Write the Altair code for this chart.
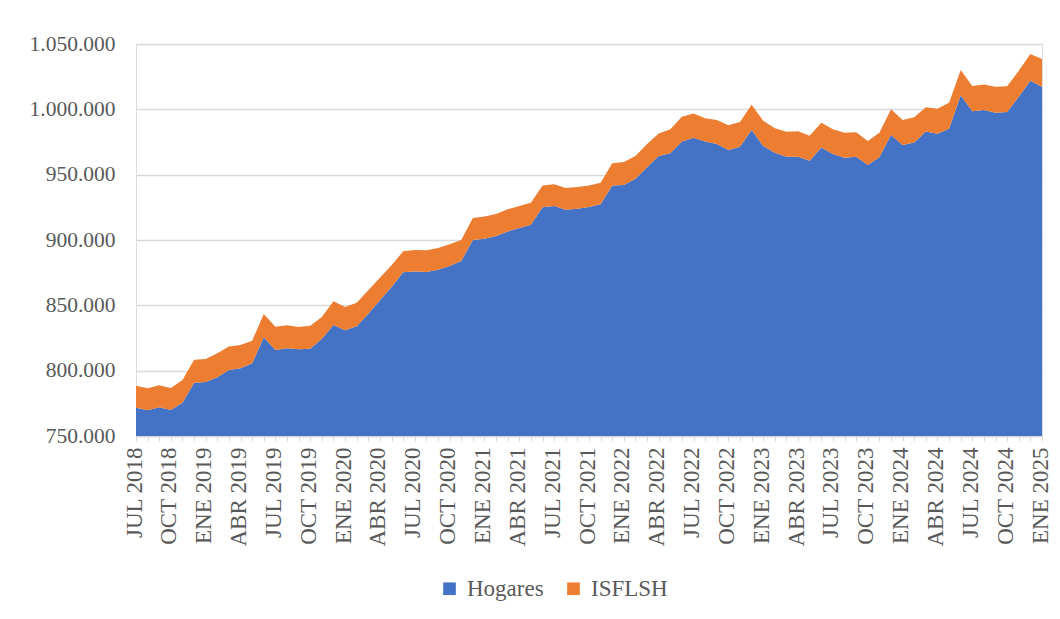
import altair as alt
import pandas as pd

month_names = ["ENE", "FEB", "MAR", "ABR", "MAY", "JUN", "JUL", "AGO", "SEP", "OCT", "NOV", "DIC"]
start_year, start_month = 2018, 7   # JUL 2018
n_periods = 79                      # JUL 2018 .. ENE 2025

hogares = [
    771700, 769700, 772000, 769900, 775500, 790800, 791300, 794900, 800500, 801800,
    805600, 825500, 815800, 817100, 816300, 816800, 824500, 834900, 830900, 833900,
    843600, 853800, 864000, 875300, 875800, 875500, 877300, 880100, 883900, 900000,
    901000, 903100, 906600, 909200, 911700, 925000, 926000, 923200, 924000, 925300,
    927300, 941800, 942100, 946900, 955600, 964300, 966300, 975300, 978300, 975300,
    973500, 968900, 971400, 984200, 972000, 966800, 963800, 963800, 960700, 970700,
    965800, 963000, 963800, 957400, 963300, 980400, 972700, 974600, 983000, 981400,
    985200, 1010700, 998500, 999500, 997400, 998000, 1009700, 1021900, 1017300,
]
isflsh = [
    16800, 16800, 16800, 16800, 17400, 17600, 17600, 18400, 17900, 17800,
    17300, 17900, 17900, 17600, 17100, 17600, 16600, 18200, 17800, 18100,
    17900, 17400, 16600, 16000, 16500, 16600, 16600, 16600, 16100, 16800,
    16900, 16800, 16900, 16800, 16900, 16800, 16600, 16600, 16600, 16500,
    16600, 16900, 17600, 17400, 17900, 17300, 18400, 19100, 18600, 17800,
    18300, 18900, 18900, 19400, 19200, 18700, 19100, 19400, 19100, 19100,
    18900, 19100, 18600, 18400, 18800, 19600, 19100, 19300, 18500, 19100,
    19900, 19400, 19400, 19600, 19900, 19600, 19900, 20400, 21200,
]

series_names = ["Hogares", "ISFLSH"]
series_colors = ["#4472C4", "#ED7D31"]

labels = []
for k in range(n_periods):
    m = (start_month - 1 + k) % 12
    y = start_year + (start_month - 1 + k) // 12
    labels.append(f"{month_names[m]} {y}")

rows = []
for i, lab in enumerate(labels):
    rows.append({"periodo": lab, "serie": "Hogares", "orden": 0, "valor": hogares[i]})
    rows.append({"periodo": lab, "serie": "ISFLSH", "orden": 1, "valor": isflsh[i]})
df = pd.DataFrame(rows)

FONT = "Liberation Serif"
TXT = "#595959"
GRID = "#D9D9D9"

chart = alt.Chart(df).mark_area(clip=True, opacity=1).encode(
    x=alt.X(
        "periodo:O",
        sort=labels,
        scale=alt.Scale(type="point", padding=0),
        axis=alt.Axis(
            title=None,
            labelAngle=-90,
            labelExpr="indexof(['JUL','OCT','ENE','ABR'], slice(datum.value,0,3)) >= 0 ? datum.value : ''",
            labelFont=FONT,
            labelFontSize=23,
            labelColor=TXT,
            labelPadding=6,
            labelOffset=-2,
            labelOverlap=False,
            labelBaseline="middle",
            labelAlign="right",
            labelBound=False,
            domainColor=GRID,
            domainWidth=1.5,
            tickColor=GRID,
            tickSize=5,
            tickWidth=1,
            grid=False,
        ),
    ),
    y=alt.Y(
        "valor:Q",
        stack="zero",
        scale=alt.Scale(domain=[750000, 1050000], zero=False, nice=False),
        axis=alt.Axis(
            title=None,
            values=[750000, 800000, 850000, 900000, 950000, 1000000, 1050000],
            labelExpr="replace(format(datum.value, ',.0f'), regexp(',', 'g'), '.')",
            labelFont=FONT,
            labelFontSize=21.5,
            labelColor=TXT,
            labelPadding=21,
            domain=False,
            ticks=False,
            grid=True,
            gridColor=GRID,
            gridWidth=1.5,
        ),
    ),
    color=alt.Color(
        "serie:N",
        scale=alt.Scale(domain=series_names, range=series_colors),
        legend=alt.Legend(
            title=None,
            orient="none",
            legendX=302,
            legendY=533,
            direction="horizontal",
            symbolType="square",
            symbolSize=160,
            symbolStrokeWidth=0,
            labelFont=FONT,
            labelFontSize=23,
            labelColor=TXT,
            columnPadding=18,
            labelOffset=6,
        ),
    ),
    order=alt.Order("orden:Q"),
).properties(
    width=906,
    height=392,
    autosize=alt.AutoSizeParams(type="none"),
    padding={"left": 128, "top": 36, "right": 10, "bottom": 165},
).configure_view(strokeWidth=0).configure(background="white")

chart.save("out.html", embed_options={"renderer": "svg", "actions": False})
